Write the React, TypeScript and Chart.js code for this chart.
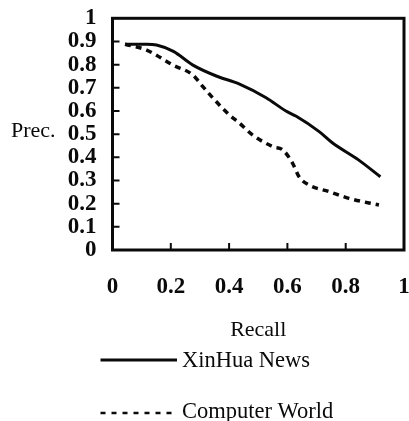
import { useEffect, useRef } from 'react';
import { Chart, registerables } from 'chart.js';

Chart.register(...registerables);

// ---- data ----
const seriesLabels = ['XinHua News', 'Computer World'];

const xinhuaRecall = [0.043, 0.117, 0.151, 0.209, 0.276, 0.356, 0.436, 0.527, 0.595, 0.629, 0.709, 0.754, 0.845, 0.919];
const xinhuaPrecision = [0.888, 0.888, 0.885, 0.857, 0.798, 0.751, 0.716, 0.657, 0.6, 0.578, 0.511, 0.463, 0.388, 0.316];

const computerRecall = [0.043, 0.117, 0.208, 0.276, 0.31, 0.345, 0.401, 0.436, 0.481, 0.55, 0.584, 0.618, 0.64, 0.675, 0.743, 0.811, 0.914];
const computerPrecision = [0.888, 0.863, 0.798, 0.755, 0.705, 0.655, 0.583, 0.547, 0.496, 0.446, 0.432, 0.374, 0.316, 0.28, 0.252, 0.223, 0.194];

const xTickValues = [0, 0.2, 0.4, 0.6, 0.8, 1];
const yTickValues = [0, 0.1, 0.2, 0.3, 0.4, 0.5, 0.6, 0.7, 0.8, 0.9, 1];

const xTitle = 'Recall';
const yTitle = 'Prec.';

const FONT = '"Liberation Serif", "Times New Roman", serif';
const INK = '#0a0a0a';

const toPoints = (xs: number[], ys: number[]) => xs.map((x, i) => ({ x, y: ys[i] }));

const extrasPlugin = {
  id: 'extras',
  afterDraw(chart: any) {
    const { ctx, chartArea: a, scales } = chart;
    ctx.save();
    // frame
    ctx.strokeStyle = INK;
    ctx.lineWidth = 3;
    ctx.setLineDash([]);
    ctx.strokeRect(a.left, a.top, a.right - a.left, a.bottom - a.top);
    // inward tick marks
    ctx.lineWidth = 2;
    ctx.beginPath();
    scales.x.ticks.forEach((t: any) => {
      if (t.value > 0 && t.value < 1) {
        const px = scales.x.getPixelForValue(t.value);
        ctx.moveTo(px, a.bottom);
        ctx.lineTo(px, a.bottom - 7);
      }
    });
    scales.y.ticks.forEach((t: any) => {
      if (t.value > 0 && t.value < 1) {
        const py = scales.y.getPixelForValue(t.value);
        ctx.moveTo(a.left, py);
        ctx.lineTo(a.left + 7, py);
      }
    });
    ctx.stroke();

    // horizontal y-axis title
    ctx.fillStyle = INK;
    ctx.font = `22px ${FONT}`;
    ctx.textAlign = 'left';
    ctx.textBaseline = 'alphabetic';
    ctx.fillText(yTitle, 11, 137);

    // legend (stacked, below the axis title)
    const lineY = [360, 413];
    const textY = [367, 418];
    ctx.font = `22.5px ${FONT}`;
    chart.data.datasets.forEach((ds: any, i: number) => {
      ctx.save();
      ctx.strokeStyle = ds.borderColor;
      ctx.lineWidth = i === 0 ? 3 : 2.5;
      ctx.setLineDash(ds.borderDash ? [5, 6] : []);
      ctx.beginPath();
      ctx.moveTo(100.5, lineY[i]);
      ctx.lineTo(177, lineY[i]);
      ctx.stroke();
      ctx.restore();
      ctx.fillText(ds.label, 182, textY[i]);
    });
    ctx.restore();
  },
};

export default function App() {
  const ref = useRef<HTMLCanvasElement | null>(null);

  useEffect(() => {
    document.body.style.margin = '0';
    if (!ref.current) return;
    const chart = new Chart(ref.current, {
      type: 'line',
      data: {
        datasets: [
          {
            label: seriesLabels[0],
            data: toPoints(xinhuaRecall, xinhuaPrecision),
            borderColor: INK,
            borderWidth: 3,
            pointRadius: 0,
            tension: 0.4,
            cubicInterpolationMode: 'monotone',
            fill: false,
          },
          {
            label: seriesLabels[1],
            data: toPoints(computerRecall, computerPrecision),
            borderColor: INK,
            borderWidth: 3.5,
            borderDash: [6, 5],
            pointRadius: 0,
            tension: 0.4,
            cubicInterpolationMode: 'monotone',
            fill: false,
          },
        ],
      },
      options: {
        animation: false,
        responsive: false,
        devicePixelRatio: 1,
        layout: { autoPadding: false, padding: { left: 0, top: 18.3, right: 5, bottom: 78 } },
        plugins: {
          legend: { display: false },
          tooltip: { enabled: false },
        },
        scales: {
          x: {
            type: 'linear',
            min: 0,
            max: 1,
            afterBuildTicks: (s: any) => {
              s.ticks = xTickValues.map((v) => ({ value: v }));
            },
            afterFit: (s: any) => {
              s.height = 93;
              s.paddingLeft = 0;
              s.paddingRight = 0;
              s.paddingTop = 0;
              s.paddingBottom = 0;
            },
            grid: { display: false, drawTicks: false },
            border: { display: false },
            ticks: {
              autoSkip: false,
              maxRotation: 0,
              minRotation: 0,
              padding: 22.8,
              color: INK,
              font: { family: FONT, size: 23, weight: 'bold', lineHeight: 1.2 },
              callback: (v: any) => String(v),
            },
            title: {
              display: true,
              text: xTitle,
              color: INK,
              padding: 0,
              font: { family: FONT, size: 22, lineHeight: 1.2 },
            },
          },
          y: {
            type: 'linear',
            min: 0,
            max: 1,
            afterBuildTicks: (s: any) => {
              s.ticks = yTickValues.map((v) => ({ value: v }));
            },
            afterFit: (s: any) => {
              s.width = 112.5;
              s.paddingLeft = 0;
              s.paddingRight = 0;
              s.paddingTop = 0;
              s.paddingBottom = 0;
            },
            grid: { display: false, drawTicks: false },
            border: { display: false },
            ticks: {
              autoSkip: false,
              padding: 16,
              color: INK,
              font: { family: FONT, size: 23, weight: 'bold', lineHeight: 1 },
              callback: (v: any) => String(v),
            },
          },
        },
      },
      plugins: [extrasPlugin],
    } as any);
    return () => chart.destroy();
  }, []);

  return <canvas ref={ref} width={409} height={421} style={{ display: 'block', width: 409, height: 421 }} />;
}
